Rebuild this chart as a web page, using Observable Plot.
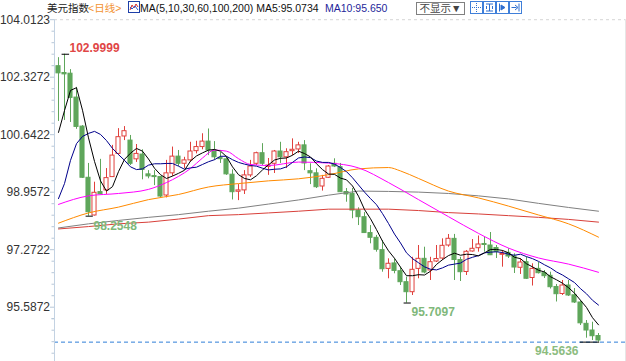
<!DOCTYPE html>
<html><head><meta charset="utf-8">
<script src="https://cdn.jsdelivr.net/npm/d3@7"></script>
<script src="https://cdn.jsdelivr.net/npm/@observablehq/plot@0.6"></script>
<style>
body{margin:0;background:#fff;}
#wrap{position:relative;width:626px;height:361px;overflow:hidden;font-family:"Liberation Sans",Arial,"Noto Sans CJK SC",sans-serif;}
#chart{position:absolute;left:0;top:0;}
.h{position:absolute;top:2px;font-size:10.5px;line-height:12px;white-space:nowrap;}
.btn{position:absolute;top:2px;width:11px;height:11px;border:1px solid #3f7fd9;background:#fff;}
</style></head><body>
<div id="wrap">
<div id="chart"></div>
<span class="h" style="left:47px;color:#222">美元指数</span>
<span class="h" style="left:88px;color:#f39232">&lt;日线&gt;</span>
<svg class="h" style="left:128px;top:1px" width="12" height="12" viewBox="0 0 12 12"><rect x="0.5" y="0.5" width="11" height="11" fill="#fff" stroke="#1d3fa8"/><polyline points="2,9 4,4 6,7 8,3 10,6" fill="none" stroke="#d9302c" stroke-width="1"/><polyline points="2,6 4,8 7,5 10,9" fill="none" stroke="#2b57d0" stroke-width="1"/></svg>
<span class="h" style="left:140px;color:#111">MA(5,10,30,60,100,200) MA5:95.0734</span>
<span class="h" style="left:325px;color:#1f1f9a">MA10:95.650</span>
<span class="h" style="left:416px;top:2px;width:47px;height:11px;border:1px solid #808080;color:#444;text-align:center;line-height:11px">不显示▼</span>
<svg class="h" style="left:470px;top:1px" width="13" height="13" viewBox="0 0 13 13"><rect x="0.5" y="0.5" width="12" height="12" fill="#fff" stroke="#3f7fd9"/><path d="M6.5 2v9M2 6.5h9" stroke="#2f6fd0" stroke-dasharray="1,1"/></svg>
<svg class="h" style="left:483px;top:1px" width="13" height="13" viewBox="0 0 13 13"><rect x="0.5" y="0.5" width="12" height="12" fill="#fff" stroke="#3f7fd9"/><path d="M3 3h7M6.5 3v7M3 10h7M3.5 5v3M9.5 5v3" stroke="#2f6fd0"/></svg>
<svg class="h" style="left:496px;top:1px" width="13" height="13" viewBox="0 0 13 13"><rect x="0.5" y="0.5" width="12" height="12" fill="#fff" stroke="#3f7fd9"/><path d="M3.5 2.5v8M5 4l4 2.5L5 9z" stroke="#2f6fd0" fill="#2f6fd0"/></svg>
<svg class="h" style="left:509px;top:1px" width="13" height="13" viewBox="0 0 13 13"><rect x="0.5" y="0.5" width="12" height="12" fill="#fff" stroke="#3f7fd9"/><path d="M2.5 6.5h5M6 4l3 2.5L6 9M10 2.5v8" stroke="#2f6fd0" fill="none"/></svg>
</div>
<script>
// ---- data ----
const yTickValues = [104.0123, 102.3272, 100.6422, 98.9572, 97.2722, 95.5872];
const opens = [102.65,102.45,102.43,101.73,100.88,99.38,98.275,98.96,99.01,99.40,
100.08,100.59,100.47,99.92,100.06,99.48,99.43,99.40,98.86,99.51,
100.00,99.79,99.89,100.16,100.28,100.44,100.165,99.965,99.92,99.47,
98.97,99.01,99.45,99.79,100.10,99.70,99.79,100.15,99.98,100.16,
100.21,100.33,99.573,99.51,99.124,99.38,99.79,99.69,98.963,98.91,
98.42,98.225,97.76,97.62,97.26,96.71,96.87,96.642,96.32,96.027,
96.71,97.005,96.663,96.926,97.014,97.395,97.59,96.97,96.619,97.22,
97.316,97.44,97.395,97.322,97.123,97.18,97.073,96.742,96.906,96.443,
96.71,96.584,96.507,96.18,95.974,96.223,95.936,95.725,95.10,94.904,94.743];
const highs = [102.90,102.9999,102.55,102.03,100.91,99.80,99.25,99.92,99.65,100.33,
100.82,100.88,100.62,100.355,100.20,99.59,99.59,99.42,99.89,100.28,
100.18,99.98,100.42,100.45,100.67,100.81,100.44,100.12,99.98,99.614,
99.18,99.59,99.89,100.13,100.38,99.945,100.18,100.42,100.23,100.52,
100.42,100.47,99.79,99.643,99.45,99.74,99.936,99.80,99.065,99.065,
98.50,98.36,97.98,97.69,97.54,97.005,97.005,96.76,96.466,97.05,
97.395,97.345,97.05,97.395,97.59,97.718,97.72,97.05,97.249,97.571,
97.674,97.64,97.776,97.395,97.249,97.30,97.152,97.005,97.05,96.859,
96.897,96.663,96.613,96.253,96.37,96.37,96.135,95.784,95.197,95.147,94.816];
const lows = [101.03,101.06,101.00,100.80,99.36,98.2548,98.26,98.89,98.89,99.39,
100.03,100.47,99.74,99.83,99.32,99.35,99.15,98.79,98.79,99.42,
99.71,99.643,99.84,100.08,100.20,100.03,99.89,99.80,99.45,98.73,
98.71,98.89,99.39,99.74,99.74,99.45,99.505,99.80,99.65,100.03,
100.09,99.59,99.18,99.065,98.99,99.36,99.68,98.95,98.664,98.18,
97.98,97.75,97.445,97.20,96.613,96.42,96.566,96.223,95.7097,95.93,
96.42,96.566,96.37,96.897,96.956,97.345,96.37,96.34,96.516,97.20,
97.20,97.20,97.10,97.014,96.76,97.014,96.575,96.546,96.399,96.208,
96.56,96.428,96.12,95.74,95.93,95.90,95.696,95.051,94.679,94.611,94.5636];
const closes = [102.44,102.41,101.72,100.87,99.38,98.37,98.94,98.90,99.37,100.03,
100.57,100.745,99.79,100.08,99.61,99.42,99.40,98.83,99.51,100.00,
99.79,99.89,100.15,100.28,100.44,100.18,99.98,99.925,99.48,98.957,
99.01,99.45,99.71,100.10,99.79,99.74,100.15,99.98,100.13,100.20,
100.33,99.80,99.51,99.104,99.35,99.71,99.71,98.957,98.89,98.42,
98.225,97.76,97.621,97.27,96.70,96.86,96.65,96.32,96.027,96.683,
97.005,96.604,96.906,96.999,97.386,97.592,96.97,96.613,97.211,97.299,
97.425,97.41,97.11,97.21,97.146,97.073,96.75,96.897,96.42,96.71,
96.584,96.496,96.173,95.968,96.223,95.93,95.725,95.115,94.904,94.737,94.611];
const ma5 = [100.71,101.35,101.94,102.02,101.36,100.55,99.86,99.29,98.99,99.12,
99.56,99.92,100.10,100.24,100.16,99.93,99.66,99.47,99.36,99.43,
99.51,99.60,99.87,100.02,100.11,100.19,100.21,100.16,100.00,99.70,
99.47,99.36,99.32,99.44,99.61,99.76,99.90,99.95,99.96,100.04,
100.16,100.09,99.99,99.79,99.62,99.49,99.48,99.37,99.32,99.14,
98.84,98.45,98.18,97.86,97.52,97.24,97.02,96.76,96.51,96.51,
96.54,96.53,96.64,96.84,96.98,97.10,97.17,97.11,97.14,97.13,
97.09,97.18,97.28,97.28,97.25,97.18,97.05,97.01,96.86,96.77,
96.67,96.62,96.48,96.39,96.29,96.16,96.00,95.79,95.58,95.28,95.07];
const ma10 = [98.77,99.21,99.89,100.38,100.59,100.68,100.74,100.65,100.47,100.24,
100.06,99.89,99.70,99.62,99.64,99.75,99.79,99.79,99.80,99.80,
99.72,99.63,99.67,99.69,99.77,99.85,99.91,100.01,100.01,99.91,
99.83,99.78,99.74,99.72,99.66,99.61,99.63,99.64,99.70,99.83,
99.96,99.99,99.97,99.87,99.83,99.83,99.78,99.68,99.56,99.38,
99.17,98.96,98.77,98.59,98.33,98.04,97.73,97.47,97.18,97.01,
96.89,96.77,96.70,96.68,96.74,96.82,96.85,96.88,96.99,97.05,
97.10,97.18,97.20,97.21,97.19,97.14,97.11,97.14,97.07,97.01,
96.93,96.83,96.74,96.62,96.53,96.42,96.31,96.13,95.98,95.79,95.65];
const ma30Idx = [0,5,10,15,18,20,22,24,26,28,30,32,35,40,45,50,55,60,65,70,75,80,85,90];
const ma30 = [98.60,98.85,98.92,99.04,99.24,99.42,99.65,99.96,100.19,100.16,99.94,99.77,99.74,99.84,99.81,99.67,99.24,98.74,98.24,97.75,97.32,97.03,96.85,96.61];
const ma60Idx = [0,5,10,15,20,25,30,35,40,45,50,55,57,60,65,70,75,80,85,90];
const ma60 = [98.05,98.35,98.52,98.74,98.89,99.11,99.21,99.29,99.35,99.47,99.64,99.68,99.58,99.36,98.99,98.79,98.55,98.29,98.03,97.64];
const slowIdx = [0,5,10,15,20,25,30,35,40,45,50,55,60,65,70,75,80,85,90];
const ma100 = [97.91,98.03,98.13,98.22,98.30,98.40,98.49,98.61,98.73,98.87,98.99,98.98,98.96,98.92,98.85,98.76,98.63,98.51,98.40];
const ma200 = [97.88,97.95,98.03,98.08,98.17,98.27,98.30,98.35,98.40,98.46,98.46,98.46,98.42,98.36,98.32,98.27,98.22,98.16,98.08];
const markIdx = [1, 5, 58, 90];   // candles carrying the extreme labels

// ---- build ----
const RED = "#e0403c", GREEN = "#5fa65b";
const candles = closes.map((c, i) => ({i, open: opens[i], high: highs[i], low: lows[i], close: c, up: c >= opens[i]}));
const series = (idx, vals) => vals.map((v, k) => ({i: idx[k], v}));
const allIdx = closes.map((_, i) => i);
const hiMark = [{i: markIdx[0], v: highs[markIdx[0]]}];
const loMarks = markIdx.slice(1, 3).map(i => ({i, v: lows[i]}));
const lastMark = [{i: markIdx[3], v: lows[markIdx[3]]}];
const minLow = d3.min(lows);
const minor = [];
for (let k = 0; k < yTickValues.length; k++) {
  const step = (yTickValues[0] - yTickValues[1]) / 5;
  for (let j = 1; j < 5; j++) minor.push(yTickValues[k] - j * step);
}
minor.push(yTickValues[yTickValues.length-1] - (yTickValues[0] - yTickValues[1]) / 5);
const fmt = d => d.toFixed(4);

const chart = Plot.plot({
  width: 626, height: 361,
  marginLeft: 54, marginRight: 1, marginTop: 19.2, marginBottom: 0,
  style: {fontFamily: "Liberation Sans, Arial, sans-serif", background: "transparent", overflow: "visible"},
  x: {domain: [-0.6667, 94.5], axis: null},
  y: {domain: [93.996, 104.0123], axis: null},
  color: {type: "identity"},
  marks: [
    Plot.ruleY([yTickValues[0]], {stroke: "#d6d6d6", strokeDasharray: "3,3"}),
    Plot.frame({anchor: "right", stroke: "#e6e6e6"}),
    Plot.ruleY([minLow], {stroke: "#2f7fd8", strokeDasharray: "4,3"}),
    Plot.ruleX(candles, {x: "i", y1: "low", y2: "high", stroke: d => d.up ? RED : GREEN}),
    Plot.rect(candles, {x1: d => d.i - 0.34, x2: d => d.i + 0.34, y1: "open", y2: "close",
      fill: d => d.up ? "#fff" : GREEN, stroke: d => d.up ? RED : GREEN, strokeWidth: 1}),
    Plot.line(series(ma200Idx(), ma200), {x: "i", y: "v", stroke: "#d8403a", strokeWidth: 1}),
    Plot.line(series(slowIdx, ma100), {x: "i", y: "v", stroke: "#808080", strokeWidth: 1}),
    Plot.line(series(ma60Idx, ma60), {x: "i", y: "v", stroke: "#ff8a00", strokeWidth: 1, curve: "monotone-x"}),
    Plot.line(series(ma30Idx, ma30), {x: "i", y: "v", stroke: "#ff00ff", strokeWidth: 1, curve: "monotone-x"}),
    Plot.line(series(allIdx, ma10), {x: "i", y: "v", stroke: "#00008b", strokeWidth: 1}),
    Plot.line(series(allIdx, ma5), {x: "i", y: "v", stroke: "#000000", strokeWidth: 1}),
    // extreme markers
    Plot.ruleY(hiMark, {y: "v", x1: d => d.i - 0.4, x2: d => d.i + 0.85, stroke: "#000"}),
    Plot.ruleY(loMarks, {y: "v", x1: d => d.i - 0.4, x2: d => d.i + 0.8, stroke: "#000"}),
    Plot.ruleY(lastMark, {y: "v", x1: d => d.i - 3.0, x2: d => d.i + 0.2, stroke: "#000"}),
    Plot.text(hiMark, {x: "i", y: "v", text: d => fmt(d.v), dx: 5, dy: -6.5, textAnchor: "start", fill: "#e04646", fontSize: 12, fontWeight: "bold"}),
    Plot.text(loMarks, {x: "i", y: "v", text: d => fmt(d.v), dx: 5, dy: 9.5, textAnchor: "start", fill: "#80b87a", fontSize: 12, fontWeight: "bold"}),
    Plot.text(lastMark, {x: "i", y: "v", text: d => fmt(d.v), dx: -20, dy: 9.5, textAnchor: "end", fill: "#8cbc80", fontSize: 12, fontWeight: "bold"}),
    // axis
    Plot.frame({anchor: "left", stroke: "#c3d2e2"}),
    Plot.axisY(minor, {anchor: "left", tickSize: 2.5, tickFormat: () => "", stroke: "#b7c7d8"}),
    Plot.axisY(yTickValues, {anchor: "left", tickSize: 4, tickPadding: 0.5, tickFormat: fmt, fontSize: 12, color: "#333", stroke: "#b7c7d8"})
  ]
});
function ma200Idx() { return slowIdx; }
document.getElementById("chart").appendChild(chart);
</script>
</body></html>
